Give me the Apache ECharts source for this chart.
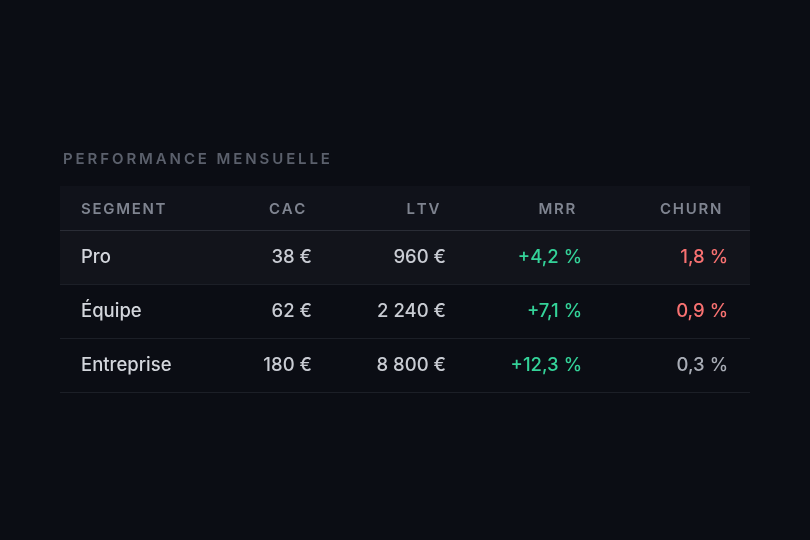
<!DOCTYPE html>
<html><head><meta charset="utf-8">
<script src="https://cdn.jsdelivr.net/npm/echarts@6/dist/echarts.min.js"></script>
<style>html,body{margin:0;background:#0b0d14;}#c{width:810px;height:540px;}</style>
</head><body><div id="c"></div>
<script>
const title = 'PERFORMANCE MENSUELLE';
const headers = ['SEGMENT','CAC','LTV','MRR','CHURN'];
const segments = ['Pro','Équipe','Entreprise'];
const cac = ['38 €','62 €','180 €'];
const ltv = ['960 €','2 240 €','8 800 €'];
const mrr = ['+4,2 %','+7,1 %','+12,3 %'];
const churn = ['1,8 %','0,9 %','0,3 %'];
const churnAlert = [true,true,false];

const FONT = 'Inter, "Noto Sans", sans-serif';
const cv = document.createElement('canvas').getContext('2d');
function spaced(str, x, y, size, weight, color, spacing, align){
  cv.font = weight+' '+size+'px '+FONT;
  const ws = [...str].map(ch=>cv.measureText(ch).width);
  const total = ws.reduce((a,b)=>a+b,0)+spacing*str.length;
  let cx = align==='right' ? x-total : x;
  const out=[];
  [...str].forEach((ch,i)=>{
    out.push({type:'text',x:cx,y:y,style:{text:ch,font:weight+' '+size+'px '+FONT,fill:color,textVerticalAlign:'middle'}});
    cx += ws[i]+spacing;
  });
  return out;
}
const L=60,R=750,colR=[0,312,446,582,728];
const rowTop=[231,285,339];
const g=[];
g.push({type:'rect',shape:{x:L,y:186,width:R-L,height:44},style:{fill:'#10121a'}});
g.push({type:'rect',shape:{x:L,y:231,width:R-L,height:53},style:{fill:'#12141b'}});
g.push({type:'line',shape:{x1:L,y1:230.5,x2:R,y2:230.5},style:{stroke:'#2a2d36',lineWidth:1}});
[284.5,338.5,392.5].forEach(y=>g.push({type:'line',shape:{x1:L,y1:y,x2:R,y2:y},style:{stroke:'#1c1f27',lineWidth:1}}));
g.push(...spaced(title,63,159,15,'600','#5b606c',2.9,'left'));
headers.forEach((h,i)=>{
  if(i===0) g.push(...spaced(h,81,209,15,'600','#7f8490',1.7,'left'));
  else g.push(...spaced(h,colR[i]-5,209,15,'600','#7f8490',1.7,'right'));
});
segments.forEach((s,r)=>{
  const y=rowTop[r]+26;
  const f='500 18.5px '+FONT;
  const t=(txt,x,al,col)=>g.push({type:'text',x:x,y:y,style:{text:txt,font:f,fill:col,textAlign:al,textVerticalAlign:'middle'}});
  t(s,81,'left','#d3d6dc');
  t(cac[r],colR[1],'right','#c9ccd3');
  t(ltv[r],colR[2],'right','#c9ccd3');
  t(mrr[r],colR[3],'right','#34d399');
  t(churn[r],colR[4],'right',churnAlert[r]?'#f87171':'#a9adb6');
});
const chart=echarts.init(document.getElementById('c'));
chart.setOption({backgroundColor:'#0b0d14',graphic:g});
</script></body></html>
